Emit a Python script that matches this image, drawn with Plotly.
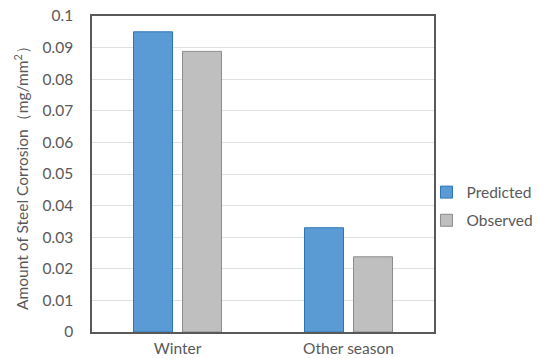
import plotly.graph_objects as go

categories = ["Winter", "Other season"]
predicted = [0.095, 0.033]
observed = [0.0888, 0.0238]
y_ticks = [0, 0.01, 0.02, 0.03, 0.04, 0.05, 0.06, 0.07, 0.08, 0.09, 0.1]
y_tick_labels = ["0", "0.01", "0.02", "0.03", "0.04", "0.05", "0.06", "0.07", "0.08", "0.09", "0.1"]

fig = go.Figure()
fig.add_trace(go.Bar(name="Predicted", x=categories, y=predicted, legendgroup="p",
                     marker=dict(color="#5B9BD5", line=dict(color="#2E75B6", width=1))))
fig.add_trace(go.Bar(name="Observed", x=categories, y=observed, legendgroup="o",
                     marker=dict(color="#BFBFBF", line=dict(color="#8C8C8C", width=1))))

font_family = "Lato, 'Open Sans', sans-serif"
fig.update_layout(
    width=539, height=358,
    margin=dict(l=92, r=105, t=16, b=26, autoexpand=False),
    paper_bgcolor="white", plot_bgcolor="white",
    barmode="group", bargap=0.427, bargroupgap=0.204,
    font=dict(family=font_family, color="#595959", size=15.5),
    legend=dict(x=0.978, y=0.397,
                xanchor="left", yanchor="middle", bgcolor="rgba(0,0,0,0)",
                font=dict(size=15.5, color="#595959"), itemwidth=30,
                tracegroupgap=5),
    showlegend=True,
)
fig.update_xaxes(showline=True, linecolor="#595959", linewidth=1.5, mirror=True,
                 ticks="", tickfont=dict(size=15.5), ticklabelstandoff=2,
                 automargin=False)
fig.update_yaxes(range=[0, 0.1], tickvals=y_ticks, ticktext=y_tick_labels,
                 showgrid=True, gridcolor="#E0E0E0", gridwidth=1,
                 showline=True, linecolor="#595959", linewidth=1.5, mirror=True,
                 ticks="", tickfont=dict(size=15.5), zeroline=False,
                 ticklabelstandoff=14, automargin=False,
                 title=dict(text="Amount of Steel Corrosion（mg/mm<sup>2</sup>）",
                            font=dict(size=15.5), standoff=10))
fig.write_html("out.html")
